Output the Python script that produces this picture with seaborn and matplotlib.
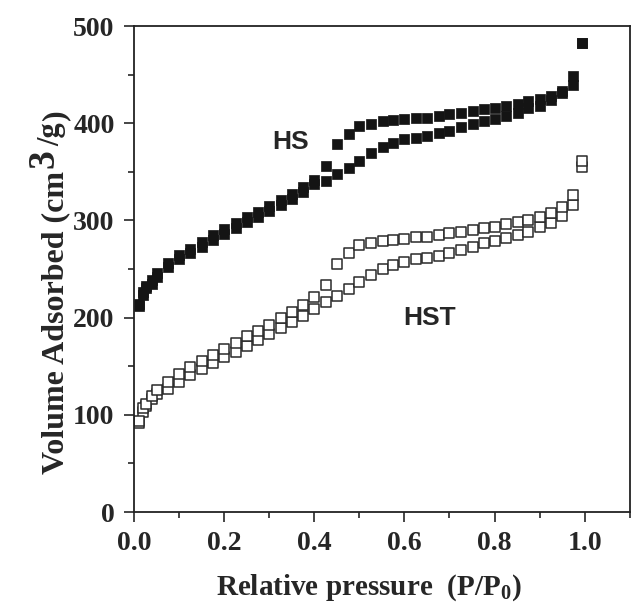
import pandas as pd
import seaborn as sns
import matplotlib.pyplot as plt
from matplotlib.ticker import MultipleLocator
from matplotlib.transforms import IdentityTransform

# relative pressure grid shared by all branches
pressure = [0.011, 0.021, 0.027, 0.040, 0.050, 0.076, 0.100, 0.125, 0.150, 0.176,
            0.200, 0.226, 0.251, 0.276, 0.300, 0.326, 0.350, 0.375, 0.400, 0.426,
            0.450, 0.476, 0.500, 0.526, 0.552, 0.575, 0.600, 0.625, 0.651, 0.676,
            0.700, 0.726, 0.752, 0.777, 0.800, 0.826, 0.852, 0.875, 0.900, 0.925,
            0.950, 0.975, 0.994]

hs_ads = [212, 223, 230, 235, 242, 252, 260, 266, 273, 280,
          286, 292, 298, 304, 310, 316, 322, 329, 337, 341,
          347.7, 354, 361.5, 369, 375.8, 380, 383.3, 385.3, 387, 389.5,
          392, 395.6, 399, 402.5, 404.5, 407.6, 411, 415.4, 418, 423.7,
          431, 439, 483]

hs_des = [214, 226, 233, 239, 246, 256, 264, 271, 278, 285,
          291, 297, 303, 309, 315, 321, 327, 334, 342, 355.5,
          378.7, 388.7, 397, 399.7, 401.8, 403, 404.5, 405.5, 405.5, 407.6,
          409, 410.7, 412.4, 414.5, 416, 418, 420, 423, 425, 428,
          433, 449, 483]

hst_ads = [92, 103, 109, 116, 121, 127, 134, 140.5, 147, 153,
           159.5, 165, 170.4, 176.6, 182.8, 189, 195.4, 202, 208.8, 215.6,
           222.3, 229, 236.5, 244, 249.8, 254.3, 257, 259.8, 261.8, 263.5,
           266.2, 269.7, 273, 276.5, 279, 282, 285, 288.5, 293, 297.4,
           305, 316, 355]

hst_des = [94, 107, 111, 119, 126, 134, 142, 149, 155, 162,
           168, 174, 180.7, 186, 192, 199.5, 205.7, 212.5, 221, 233.4,
           255.3, 266.3, 274.8, 276.8, 278.6, 280.3, 281.3, 282.7, 283.4, 284.8,
           286.8, 288.2, 290.2, 292, 293.6, 296.4, 298, 300.5, 303.2, 307.4,
           313.6, 326.5, 361]

ylabel_parts = [("Volume Adsorbed (cm", 23, 0), ("3", 27, 10), ("/g", 22, 4), (")", 23, 0)]


def vertical_label(fig, x_px, y_px, parts):
    # rotated label built piece by piece so the "3" can be full size and raised
    renderer = fig.canvas.get_renderer()
    y = y_px
    for txt, size, rise in parts:
        t = fig.text(x_px - rise, y, txt, transform=IdentityTransform(), rotation=90,
                     rotation_mode="anchor", ha="left", va="baseline",
                     fontsize=size, fontweight="bold")
        y += t.get_window_extent(renderer).height + 3


def main():
    sns.set_style("ticks")
    plt.rcParams['font.family'] = ['Liberation Serif', 'DejaVu Serif']
    plt.rcParams['font.weight'] = 'bold'
    plt.rcParams['mathtext.fontset'] = 'custom'
    plt.rcParams['mathtext.rm'] = 'Liberation Serif:bold'
    plt.rcParams['mathtext.bf'] = 'Liberation Serif:bold'
    plt.rcParams['mathtext.default'] = 'rm'

    frames = []
    for sample, ads, des in [("HS", hs_ads, hs_des), ("HST", hst_ads, hst_des)]:
        frames.append(pd.DataFrame({"p": pressure, "v": ads, "sample": sample, "branch": "ads"}))
        frames.append(pd.DataFrame({"p": pressure, "v": des, "sample": sample, "branch": "des"}))
    df = pd.concat(frames, ignore_index=True)

    fig = plt.figure(figsize=(6.31, 6.05), dpi=100)
    ax = fig.add_axes([0.2124, 0.1537, 0.7856, 0.8033])

    sns.scatterplot(ax=ax, data=df[df["sample"] == "HS"], x="p", y="v", marker="s",
                    s=58, color="#141414", edgecolor="#141414", linewidth=0.5, legend=False)
    sns.scatterplot(ax=ax, data=df[df["sample"] == "HST"], x="p", y="v", marker="s",
                    s=48, facecolor="white", edgecolor="#2a2a2a", linewidth=1.1, legend=False)

    ax.set_xlim(0, 1.1)
    ax.set_ylim(0, 500)
    ax.xaxis.set_major_locator(MultipleLocator(0.2))
    ax.xaxis.set_minor_locator(MultipleLocator(0.1))
    ax.yaxis.set_major_locator(MultipleLocator(100))
    ax.yaxis.set_minor_locator(MultipleLocator(50))
    ax.xaxis.set_major_formatter(lambda v, pos: f"{v:.1f}")
    ax.tick_params(which="major", length=7, width=1.2, labelsize=20, pad=7, direction="out")
    ax.tick_params(which="minor", length=4, width=1.2, direction="out")
    for sp in ax.spines.values():
        sp.set_visible(True)
        sp.set_linewidth(1.3)
        sp.set_color("#222222")

    ax.text(0.347, 381, "HS", fontsize=19, fontweight="bold", family="Liberation Sans",
            ha="center", va="center")
    ax.text(0.655, 200, "HST", fontsize=19, fontweight="bold", family="Liberation Sans",
            ha="center", va="center")

    ax.set_xlabel("Relative pressure  (P/P$_{0}$)", fontsize=21, fontweight="bold")
    ax.xaxis.set_label_coords(0.474, -0.125)
    ax.set_ylabel("")
    vertical_label(fig, 63, 605 - 474, ylabel_parts)

    fig.savefig("out.png", dpi=100)


if __name__ == '__main__':
    main()
